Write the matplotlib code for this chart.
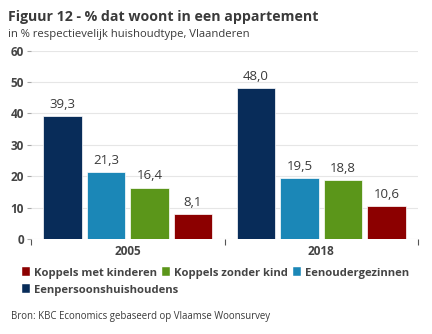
import matplotlib
matplotlib.use('Agg')
import matplotlib.pyplot as plt
from matplotlib.patches import Patch
import numpy as np

# data
years = ['2005', '2018']
series = ['Eenpersoonshuishoudens', 'Eenoudergezinnen', 'Koppels zonder kind', 'Koppels met kinderen']
values = {
    'Eenpersoonshuishoudens': [39.3, 48.0],
    'Eenoudergezinnen': [21.3, 19.5],
    'Koppels zonder kind': [16.4, 18.8],
    'Koppels met kinderen': [8.1, 10.6],
}
colors = {
    'Eenpersoonshuishoudens': '#082c59',
    'Eenoudergezinnen': '#1b87b7',
    'Koppels zonder kind': '#5b961a',
    'Koppels met kinderen': '#8c0000',
}
legend_order = ['Koppels met kinderen', 'Koppels zonder kind', 'Eenoudergezinnen', 'Eenpersoonshuishoudens']
yticks = [0, 10, 20, 30, 40, 50, 60]

plt.rcParams['font.family'] = ['Open Sans', 'DejaVu Sans']
txt = '#3a3a3a'

fig = plt.figure(figsize=(4.32, 3.34), dpi=100)
ax = fig.add_axes([31/432, 1 - 239/334, (418 - 31)/432, (239 - 50.6)/334])

x = np.arange(len(years))
step = 0.225
width = 0.2
for i, s in enumerate(series):
    pos = x + (i - 1.5) * step
    bars = ax.bar(pos, values[s], width, color=colors[s], edgecolor='white', linewidth=0.5, zorder=3)
    for b, v in zip(bars, values[s]):
        ax.text(b.get_x() + b.get_width() / 2, v + 1.6, f'{v:.1f}'.replace('.', ','),
                ha='center', va='bottom', fontsize=9.5, color=txt)

ax.set_xlim(-0.5, 1.5)
ax.set_ylim(0, 60)
ax.set_yticks(yticks)
ax.set_yticklabels([str(t) for t in yticks], fontweight='bold', fontsize=8.5, color='#444444')
ax.tick_params(axis='y', length=3, color='#aaaaaa', pad=2)
ax.yaxis.grid(True, color='#e6e6e6', linewidth=0.8, zorder=0)

ax.set_xticks([-0.5, 0.5, 1.5])
ax.set_xticklabels([])
ax.tick_params(axis='x', length=4, color='#555555', width=0.8)
ax.set_xticks(x, minor=True)
ax.set_xticklabels(years, minor=True, fontweight='bold', fontsize=8.5, color='#444444')
ax.tick_params(axis='x', which='minor', length=0, pad=4)

for sp in ax.spines.values():
    sp.set_visible(False)

fig.text(8/432, 1 - 17/334, 'Figuur 12 - % dat woont in een appartement', fontsize=10.2,
         fontweight='bold', color=txt, va='center')
fig.text(8/432, 1 - 34/334, 'in % respectievelijk huishoudtype, Vlaanderen', fontsize=8.1,
         color=txt, va='center')

handles = [Patch(facecolor=colors[s], edgecolor='white', linewidth=0.3) for s in legend_order]
leg_kw = dict(frameon=False, handlelength=0.75, handleheight=0.75, handletextpad=0.35,
              columnspacing=0.4, borderpad=0, borderaxespad=0,
              prop={'weight': 'bold', 'size': 8.1})
leg1 = fig.legend(handles[:3], legend_order[:3], ncol=3, loc='center left',
                  bbox_to_anchor=(22/432, 1 - 273/334), **leg_kw)
leg2 = fig.legend(handles[3:], legend_order[3:], ncol=1, loc='center left',
                  bbox_to_anchor=(22/432, 1 - 290/334), **leg_kw)
for leg in (leg1, leg2):
    for t in leg.get_texts():
        t.set_color('#444444')

fig.text(11/432, 1 - 316/334, 'Bron: KBC Economics gebaseerd op Vlaamse Woonsurvey', fontsize=6.9,
         color=txt, va='center')

plt.savefig('out.png', dpi=100)
